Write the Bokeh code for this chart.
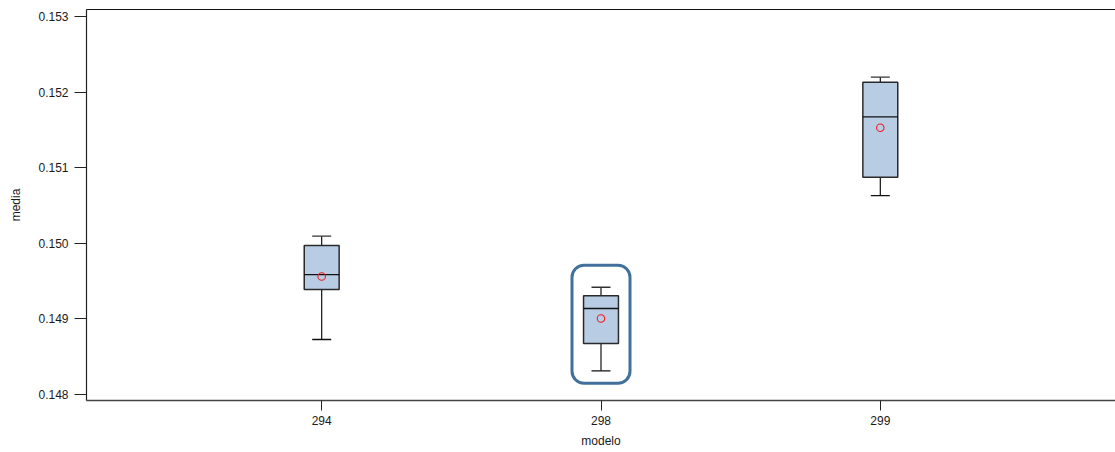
from bokeh.plotting import figure
from bokeh.models import FactorRange, Range1d, FixedTicker, LinearAxis, NumeralTickFormatter
from bokeh.transform import dodge
from bokeh.embed import file_html
from bokeh.resources import INLINE

# Box-plot summaries of "media" per "modelo"
modelos = ["294", "298", "299"]
whisker_low = [0.148728, 0.148313, 0.150632]
q1 = [0.149389, 0.148675, 0.150875]
median = [0.149587, 0.149138, 0.151673]
q3 = [0.149971, 0.149305, 0.152131]
whisker_high = [0.150094, 0.149419, 0.152198]
mean = [0.149561, 0.149005, 0.151528]

y_ticks = [0.148, 0.149, 0.150, 0.151, 0.152, 0.153]

# highlighted model
highlight = "298"
highlight_y = 0.14893

FONT = "Liberation Sans"
BOX_W = 0.125

p = figure(
    width=1115, height=452,
    x_range=FactorRange(*modelos, range_padding=0.342, range_padding_units="absolute"),
    y_range=Range1d(0.147921, 0.153093),
    output_backend="svg", toolbar_location=None,
    min_border_left=86, min_border_top=9, min_border_bottom=52, min_border_right=0,
    x_axis_label="modelo", y_axis_label="media",
)
p.outline_line_color = None
p.grid.visible = False
p.background_fill_color = "white"

# whisker stems
p.segment(x0=modelos, y0=whisker_low, x1=modelos, y1=q1, line_color="#111111", line_width=1.2)
p.segment(x0=modelos, y0=q3, x1=modelos, y1=whisker_high, line_color="#111111", line_width=1.2)
# whisker caps
p.scatter(x=modelos, y=whisker_low, marker="dash", size=19, line_color="#111111", line_width=1.3)
p.scatter(x=modelos, y=whisker_high, marker="dash", size=19, line_color="#333333", line_width=1.3)

# boxes
p.vbar(x=modelos, width=BOX_W, bottom=q1, top=q3, fill_color="#b8cce4",
       line_color="#2a2a2a", line_width=1.5)

# medians
src = dict(x=modelos, y=median)
p.segment(x0=dodge("x", -BOX_W / 2, range=p.x_range), y0="y",
          x1=dodge("x", BOX_W / 2, range=p.x_range), y1="y",
          source=src, line_color="#111111", line_width=1.3)

# means
p.scatter(x=modelos, y=mean, marker="circle", size=7.5, fill_color=None,
          line_color="#f01c24", line_width=1.1)

# rounded highlight frame
p.rect(x=[highlight], y=[highlight_y], width=58, height=118,
       width_units="screen", height_units="screen",
       fill_color=None, line_color="#41709c", line_width=3, border_radius=12)

# axes styling
for ax in (p.xaxis[0], p.yaxis[0]):
    ax.axis_line_color = "#222222"
    ax.major_tick_line_color = "#222222"
    ax.minor_tick_line_color = None
    ax.major_tick_in = 0
    ax.major_label_text_font = FONT
    ax.major_label_text_font_size = "12px"
    ax.major_label_text_color = "#1a1a1a"
    ax.axis_label_text_font = FONT
    ax.axis_label_text_font_size = "12px"
    ax.axis_label_text_font_style = "normal"
    ax.axis_label_text_color = "#1a1a1a"

p.yaxis.ticker = FixedTicker(ticks=y_ticks)
p.yaxis.formatter = NumeralTickFormatter(format="0.000")
p.yaxis.major_tick_out = 12
p.yaxis.major_label_standoff = 6
p.yaxis.axis_label_standoff = 12
p.yaxis.axis_line_width = 1.2

p.xaxis.major_tick_out = 10
p.xaxis.major_label_standoff = 5
p.xaxis.axis_label_standoff = 6
p.xaxis.axis_line_width = 1.6
p.xaxis.axis_line_color = "#444444"

# top frame line
top = LinearAxis(ticker=FixedTicker(ticks=[]), major_label_text_font_size="0px",
                 major_tick_out=0, minor_tick_out=0, axis_line_color="#111111",
                 axis_line_width=1.2)
p.add_layout(top, "above")

open("out.html", "w").write(file_html(p, INLINE))
